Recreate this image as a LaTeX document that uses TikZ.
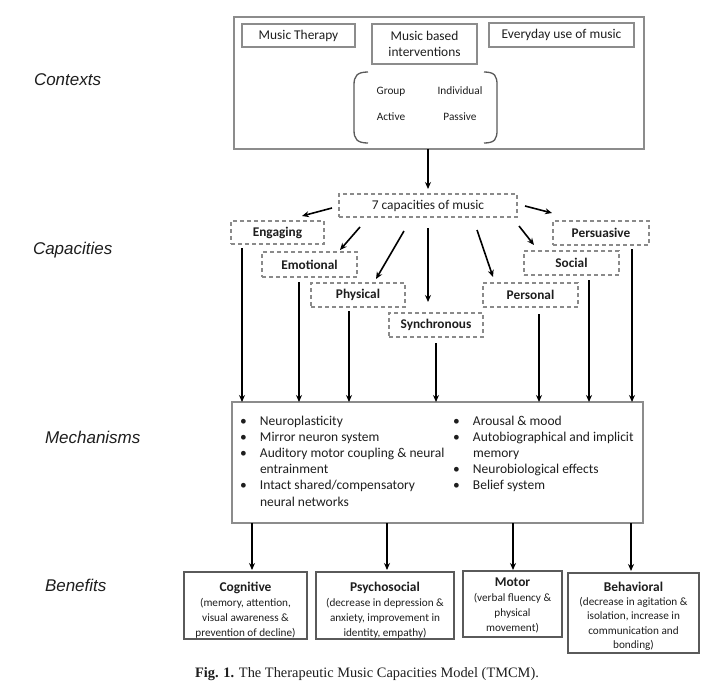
\documentclass[tikz,border=0pt]{standalone}
\usepackage{fontspec}
\setmainfont{Carlito}
\newfontfamily\lsans{Liberation Sans}
\newfontfamily\lserif{Liberation Serif}
\usetikzlibrary{arrows.meta,calc}
\definecolor{boxgray}{HTML}{8C8C8C}
\definecolor{dashgray}{HTML}{8A8A8A}
\definecolor{darkbox}{HTML}{5A5A5A}
\definecolor{txt}{HTML}{1E1E1E}
\begin{document}
\begin{tikzpicture}[x=1pt,y=-1pt,
  every node/.style={inner sep=0pt, outer sep=0pt, text=txt},
  ctxbox/.style={draw=boxgray, line width=1.3pt},
  smallbox/.style={draw=boxgray, line width=1.2pt, align=center, font=\fontsize{13.4}{16}\selectfont},
  capbox/.style={draw=dashgray, line width=1.1pt, dash pattern=on 4pt off 3pt, align=center, font=\fontsize{13.4}{16}\selectfont},
  capname/.style={capbox, font=\fontsize{13.3}{16}\selectfont\bfseries},
  mechbox/.style={draw=boxgray, line width=1.2pt},
  benbox/.style={draw=darkbox, line width=1.2pt},
  bentext/.style={align=center, font=\fontsize{11.2}{14.8}\selectfont},
  mtext/.style={font=\fontsize{13.5}{16.2}\selectfont, align=left},
  sideline/.style={font=\lsans\itshape\fontsize{17}{20}\selectfont, anchor=west},
  tiny/.style={font=\fontsize{11.3}{13}\selectfont},
  arr/.style={draw=black, line width=1.6pt, -{Stealth[length=7pt,width=6pt]}},
  brk/.style={draw=darkbox, line width=1.3pt}
]
\useasboundingbox (0,0) rectangle (728,699);
\fill[white] (0,0) rectangle (728,699);

% side labels
\node[sideline] (lctx) at (34,80) {Contexts};
\node[sideline] (lcap) at (33,250) {Capacities};
\node[sideline] (lmech) at (45,437) {Mechanisms};
\node[sideline] (lben) at (45,585) {Benefits};

% contexts
\node[ctxbox, minimum width=410pt, minimum height=132pt] (ctx) at (439,83) {};
\node[smallbox, minimum width=113pt, minimum height=23pt] (mt) at (298.5,35.5) {Music Therapy};
\node[smallbox, minimum width=105pt, minimum height=40pt] (mbi) at (424.5,44) {Music based\\interventions};
\node[smallbox, minimum width=145pt, minimum height=24pt] (eum) at (561.5,35) {Everyday use of music};
\draw[brk] (368,72) .. controls (357,72) and (354,76) .. (354,85) -- (354,130) .. controls (354,139) and (357,143) .. (368,143);
\draw[brk] (484,72) .. controls (495,72) and (497,76) .. (497,85) -- (497,130) .. controls (497,139) and (495,143) .. (484,143);
\node[tiny] (grp) at (391,92) {Group};
\node[tiny] (ind) at (460,90.5) {Individual};
\node[tiny] (act) at (391,117) {Active};
\node[tiny] (pas) at (460,117) {Passive};

% capacities
\node[capbox, minimum width=178pt, minimum height=23pt] (cap) at (428,205.5) {7 capacities of music};
\node[capname, minimum width=93pt, minimum height=23pt] (eng) at (277.5,232.5) {Engaging};
\node[capname, minimum width=95pt, minimum height=25pt] (emo) at (309.5,264.5) {Emotional};
\node[capname, minimum width=94pt, minimum height=24pt] (phy) at (358,295) {Physical};
\node[capname, minimum width=94pt, minimum height=24pt] (syn) at (436,325) {Synchronous};
\node[capname, minimum width=95pt, minimum height=24pt] (per) at (530.5,295) {Personal};
\node[capname, minimum width=95pt, minimum height=24pt] (soc) at (571.5,263) {Social};
\node[capname, minimum width=96pt, minimum height=24pt] (pers) at (601,233) {Persuasive};

\draw[arr, shorten >=5pt] (cap.north |- ctx.south) -- (cap.north);

\coordinate (s1) at (332,208); \coordinate (e1) at (302,216);
\coordinate (s2) at (360,227); \coordinate (e2) at (340,250);
\coordinate (s3) at (404,231); \coordinate (e3) at (376,279);
\coordinate (s5) at (477,230); \coordinate (e5) at (493,277);
\coordinate (s6) at (519,226); \coordinate (e6) at (534,245);
\coordinate (s7) at (525,206); \coordinate (e7) at (552,213);
\draw[arr] (s1) -- (e1);
\draw[arr] (s2) -- (e2);
\draw[arr] (s3) -- (e3);
\draw[arr, shorten <=11pt, shorten >=11pt] (cap.south) -- (cap.south |- syn.north);
\draw[arr] (s5) -- (e5);
\draw[arr] (s6) -- (e6);
\draw[arr] (s7) -- (e7);

% mechanisms
\node[mechbox, minimum width=411pt, minimum height=121pt] (mech) at (437.5,462.5) {};
\node[mtext, anchor=base west] (mechL) at (240,425) {\begin{tabular}[t]{@{}p{20pt}@{}l@{}}
\textbullet & Neuroplasticity\\
\textbullet & Mirror neuron system\\
\textbullet & Auditory motor coupling \& neural\\
 & entrainment\\
\textbullet & Intact shared/compensatory\\
 & neural networks
\end{tabular}};
\node[mtext, anchor=base west] (mechR) at (453,425) {\begin{tabular}[t]{@{}p{20pt}@{}l@{}}
\textbullet & Arousal \& mood\\
\textbullet & Autobiographical and implicit\\
 & memory\\
\textbullet & Neurobiological effects\\
\textbullet & Belief system
\end{tabular}};

% capacity -> mechanism lines
\draw[arr] ($(eng.south)+(-35.5,4)$) coordinate (t1) -- (t1 |- mech.north);
\draw[arr] ($(emo.south)+(-10.5,5)$) coordinate (t2) -- (t2 |- mech.north);
\draw[arr] ($(phy.south)+(-9,4)$) coordinate (t3) -- (t3 |- mech.north);
\draw[arr] ($(syn.south)+(0,6)$) coordinate (t4) -- (t4 |- mech.north);
\draw[arr] ($(per.south)+(8.5,7)$) coordinate (t5) -- (t5 |- mech.north);
\draw[arr] ($(soc.south)+(17.5,5)$) coordinate (t6) -- (t6 |- mech.north);
\draw[arr] ($(pers.south)+(31,4)$) coordinate (t7) -- (t7 |- mech.north);

% benefits
\node[benbox, minimum width=123pt, minimum height=67pt] (cog) at (245.5,605.5) {};
\node[bentext] (cogt) at (245.5,610)
  {{\fontsize{13.4}{14.8}\selectfont\bfseries Cognitive}\\(memory, attention,\\visual awareness \&\\prevention of decline)};
\node[benbox, minimum width=138pt, minimum height=67pt] (psy) at (385,605.5) {};
\node[bentext] (psyt) at (385,610)
  {{\fontsize{13.4}{14.8}\selectfont\bfseries Psychosocial}\\(decrease in depression \&\\anxiety, improvement in\\identity, empathy)};
\node[benbox, minimum width=99pt, minimum height=66pt] (mot) at (512.5,604) {};
\node[bentext] (mott) at (512.5,605.5)
  {{\fontsize{13.4}{14.8}\selectfont\bfseries Motor}\\(verbal fluency \&\\physical\\movement)};
\node[benbox, minimum width=131pt, minimum height=80pt] (beh) at (633.5,613) {};
\node[bentext, font=\fontsize{11.2}{14.3}\selectfont] (beht) at (633.5,616)
  {{\fontsize{13.4}{14.3}\selectfont\bfseries Behavioral}\\(decrease in agitation \&\\isolation, increase in\\communication and\\bonding)};

\draw[arr, shorten >=2pt] ($(cog.north)+(6.5,0)$) coordinate (b1) (b1 |- mech.south) -- (b1);
\draw[arr, shorten >=2pt] ($(psy.north)+(2,0)$) coordinate (b2) (b2 |- mech.south) -- (b2);
\draw[arr, shorten >=1pt] ($(mot.north)+(0.5,0)$) coordinate (b3) (b3 |- mech.south) -- (b3);
\draw[arr, shorten >=2pt] ($(beh.north)+(-2.5,0)$) coordinate (b4) (b4 |- mech.south) -- (b4);

% caption
\node[anchor=base west, font=\lserif\fontsize{14.4}{16}\selectfont] (caption) at (195,677)
  {\textbf{Fig. 1.} The Therapeutic Music Capacities Model (TMCM).};
\end{tikzpicture}
\end{document}
